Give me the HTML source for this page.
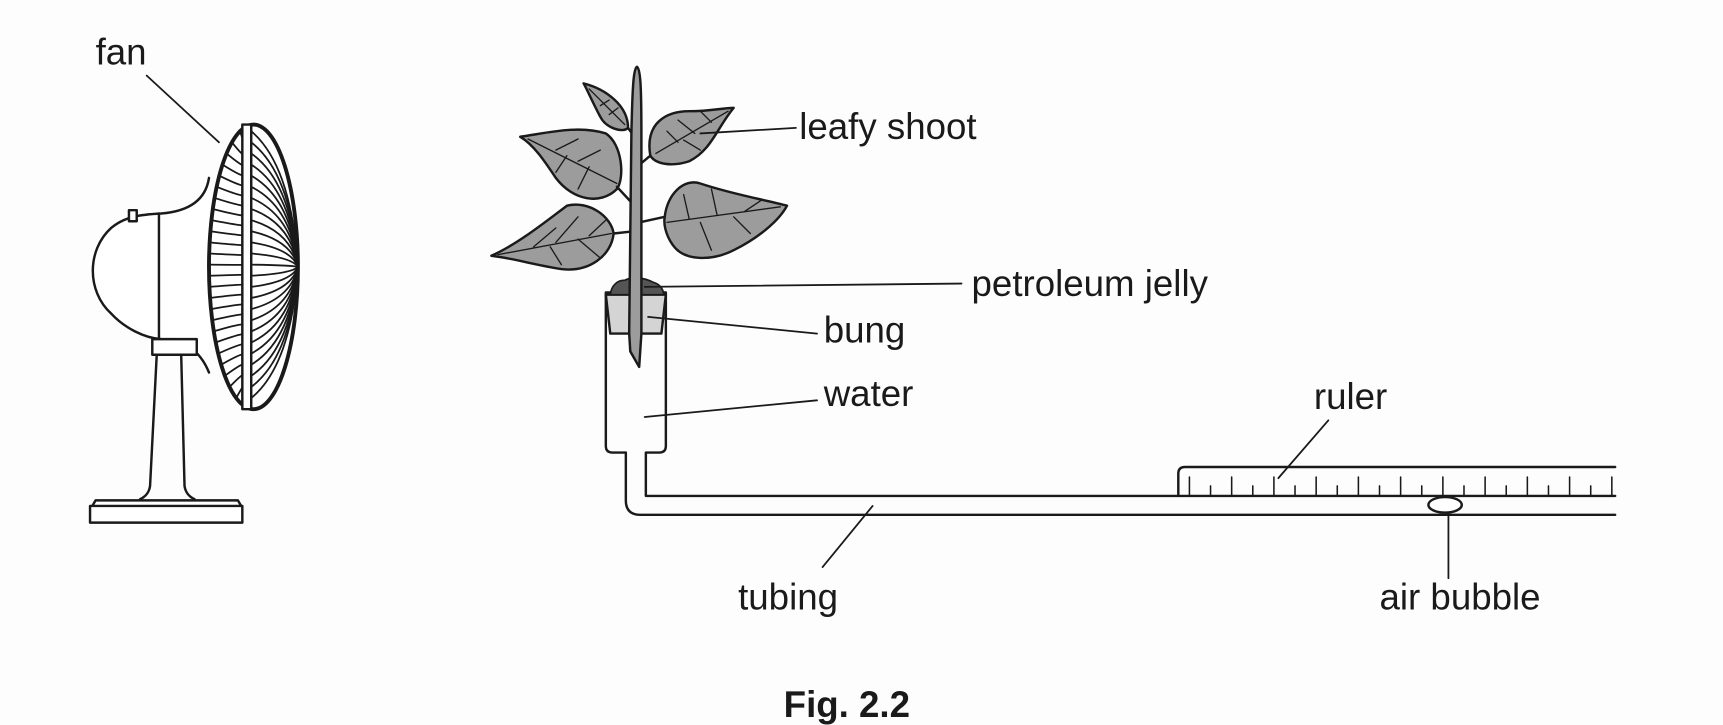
<!DOCTYPE html>
<html><head><meta charset="utf-8"><style>
html,body{margin:0;padding:0;background:#fdfdfd;}
svg{display:block;}
text{font-family:"Liberation Sans",Arial,sans-serif;font-size:33px;fill:#1a1a1a;}
</style></head><body>
<svg width="1723" height="725" viewBox="0 0 1550 652" preserveAspectRatio="none" xmlns="http://www.w3.org/2000/svg">
<rect x="0" y="0" width="1550" height="652" fill="#fdfdfd"/>
<g fill="none" stroke="#1a1a1a" stroke-width="2.2" stroke-linejoin="round" stroke-linecap="round">
<!-- fan -->
<path d="M188,160 C185,180 170,190 145,192 C125,193 112,195 100,205 C78,225 78,262 100,282 C112,295 130,304 145,305 C165,305 180,315 188,335" fill="#fff"/>
<line x1="143" y1="192" x2="143" y2="305"/>
<rect x="116" y="189" width="7" height="10" fill="#fff"/>
<line x1="150" y1="305" x2="150" y2="318"/><line x1="156" y1="305" x2="156" y2="318"/>
<rect x="137" y="305" width="40" height="14" fill="#fff"/>
<path d="M141,319 L135,437 C134,444 130,447 126,449" />
<path d="M163,319 L166,437 C167,444 171,447 175,449"/>
<path d="M83,455 L86,450 L214,450 L217,455" fill="#fff"/>
<rect x="81" y="455" width="137" height="15" fill="#fff"/>
<ellipse cx="228" cy="240" rx="40" ry="128" fill="#fff" stroke-width="3.5"/>
<g id="ribs" stroke-width="1.6"></g>
<rect x="218" y="112" width="8" height="256" fill="#fff"/>
<line x1="132" y1="68" x2="197" y2="128" stroke-width="1.6"/>
<!-- container and tubing -->
<path d="M563,407 L551,407 Q545,407 545,401 L545,263 L599,263 L599,401 Q599,407 593,407 L581,407 L581,446 L1453,446"/>
<path d="M563,407 L563,450 Q563,463 576,463 L1453,463"/>
<!-- ruler -->
<path d="M1060,446 L1060,426 Q1060,420 1066,420 L1453,420" stroke-width="2.2"/>
<g id="ticks" stroke-width="1.4"></g>
<ellipse cx="1300" cy="454" rx="15" ry="7" fill="#fff"/>
<!-- bung -->
<path d="M545,265 L599,265 L595,300 L549,300 Z" fill="#d4d4d4"/>
<path d="M549,265 C550,256 556,252 562,252 C570,248 580,250 588,254 C595,256 597,262 597,265 Z" fill="#555" stroke-width="1.5"/>
<!-- leaves -->
<g fill="#9c9c9c">
<path d="M525,75 C545,80 565,95 565,115 C560,120 545,115 540,105 C532,90 528,80 525,75 Z"/>
<path d="M585,140 C580,110 600,100 620,100 C640,100 650,97 660,97 C645,115 640,135 620,145 C605,150 590,148 585,140 Z"/>
<path d="M468,123 C490,120 520,112 545,120 C560,130 562,160 555,170 C540,185 515,180 500,160 C490,145 480,130 468,123 Z"/>
<path d="M442,230 C465,220 490,200 510,185 C530,180 550,195 552,210 C550,230 530,245 505,242 C480,238 460,232 442,230 Z"/>
<path d="M598,195 C600,175 615,160 630,165 C660,175 690,180 708,185 C700,200 680,215 660,225 C640,235 615,235 605,220 C598,210 597,200 598,195 Z"/>
</g>
<g stroke-width="1.2">
<path d="M530,80 L562,112 M540,95 L548,90 M548,103 L556,97"/>
<path d="M655,100 L590,138 M640,110 L630,100 M625,120 L610,108 M610,128 L600,118 M615,126 L630,135"/>
<path d="M475,125 L555,165 M500,135 L520,125 M520,145 L540,135 M530,150 L520,170 M510,140 L500,155"/>
<path d="M448,229 L550,210 M480,222 L500,205 M500,218 L520,195 M520,215 L540,232 M495,222 L505,238 M530,212 L545,198"/>
<path d="M702,186 L600,200 M620,197 L615,175 M645,193 L640,170 M670,190 L685,180 M630,200 L640,225 M660,195 L675,210"/>
</g>
<path d="M565,115 L570,122 M585,140 L573,150 M555,168 L568,182 M552,210 L570,208 M598,195 L575,200"/>
<path d="M573,60 C576,62 577,75 577,120 L577,300 L575,330 L567,316 L566,300 L568,120 C569,75 570,62 573,60 Z" fill="#9c9c9c"/>
<!-- label lines -->
<g stroke-width="1.6">
<line x1="630" y1="120" x2="716" y2="115"/>
<line x1="580" y1="258" x2="865" y2="255"/>
<line x1="583" y1="285" x2="735" y2="300"/>
<line x1="580" y1="375" x2="735" y2="360"/>
<line x1="1195" y1="378" x2="1150" y2="430"/>
<line x1="740" y1="510" x2="785" y2="455"/>
<line x1="1303" y1="520" x2="1303" y2="462"/>
</g>
</g>
<text x="86" y="58">fan</text>
<text x="719" y="125">leafy shoot</text>
<text x="874" y="266">petroleum jelly</text>
<text x="741" y="308">bung</text>
<text x="741" y="365">water</text>
<text x="1182" y="368">ruler</text>
<text x="664" y="548">tubing</text>
<text x="1241" y="548">air bubble</text>
<text x="705" y="645" style="font-weight:bold">Fig. 2.2</text>
<script>
(function(){
var ns="http://www.w3.org/2000/svg";
var g=document.getElementById('ribs');
for(var y=118;y<=362;y+=10){
 var t=(y-240)/128; var w=40*Math.sqrt(Math.max(0,1-t*t));
 var lx=228-w;
 var p=document.createElementNS(ns,'path');
 p.setAttribute('d','M'+lx+','+y+' Q'+(222)+','+(y+(240-y)*0.15)+' 222,'+(y+(240-y)*0.1));
 g.appendChild(p);
 var q=document.createElementNS(ns,'path');
 var sy=y; 
 q.setAttribute('d','M226,'+sy+' Q'+(262)+','+(sy+(240-sy)*0.25)+' 268,240');
 g.appendChild(q);
}
var tg=document.getElementById('ticks');
var i=0;
for(var x=1070;x<1452;x+=19){
 var l=document.createElementNS(ns,'line');
 l.setAttribute('x1',x);l.setAttribute('x2',x);
 l.setAttribute('y1',445);l.setAttribute('y2',i%2?437:429);
 tg.appendChild(l);i++;
}
})();
</script>
</svg>
</body></html>
